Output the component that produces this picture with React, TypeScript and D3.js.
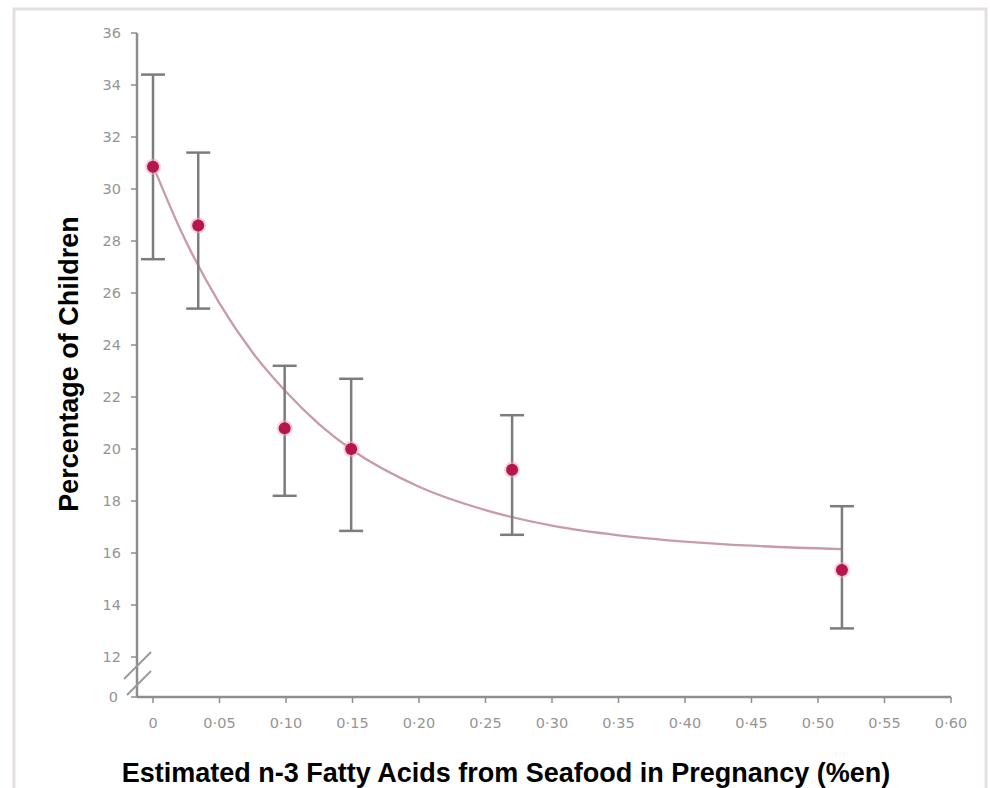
import React from "react";
import * as d3 from "d3";

// Data
const xValues = [0, 0.034, 0.099, 0.149, 0.27, 0.518];
const meanValues = [30.86, 28.6, 20.8, 20.0, 19.2, 15.35];
const upperValues = [34.4, 31.4, 23.2, 22.7, 21.3, 17.8];
const lowerValues = [27.3, 25.4, 18.2, 16.85, 16.7, 13.1];

// fitted curve, points
const curveX = [0, 0.02, 0.05, 0.075, 0.1, 0.125, 0.15, 0.2, 0.25, 0.3, 0.35, 0.4, 0.45, 0.518];
const curveY = [30.9, 28.5, 25.6, 23.7, 22.2, 20.95, 19.95, 18.55, 17.65, 17.05, 16.68, 16.44, 16.28, 16.15];

const xTicks = [0, 0.05, 0.1, 0.15, 0.2, 0.25, 0.3, 0.35, 0.4, 0.45, 0.5, 0.55, 0.6];
const xTickLabels = ["0", "0·05", "0·10", "0·15", "0·20", "0·25", "0·30", "0·35", "0·40", "0·45", "0·50", "0·55", "0·60"];
const yTicks = [12, 14, 16, 18, 20, 22, 24, 26, 28, 30, 32, 34, 36];
const yTickLabels = ["12", "14", "16", "18", "20", "22", "24", "26", "28", "30", "32", "34", "36"];
const yZeroLabel = "0";

const xTitle = "Estimated n-3 Fatty Acids from Seafood in Pregnancy (%en)";
const yTitle = "Percentage of Children";

export default function App() {
  const W = 990;
  const H = 788;
  const axisX = 137;
  const axisY = 697;
  const x = d3.scaleLinear().domain([0, 0.6]).range([153, 951]);
  const y = d3.scaleLinear().domain([12, 36]).range([657, 33]);

  const curvePts: [number, number][] = curveX.map((v, i) => [x(v), y(curveY[i])]);
  const linePath = d3.line().curve(d3.curveMonotoneX)(curvePts) || "";

  const axisColor = "#8e8e8e";
  const tickFont = "'DejaVu Sans', sans-serif";
  const tickColor = "#959595";
  const tickSize = 14.5;

  const mid = (y(12) + axisY) / 2;
  const breakY1 = mid - 11.5;
  const breakY2 = mid + 6;

  return (
    <svg
      width={W}
      height={H}
      style={{ position: "absolute", left: 0, top: 0, background: "#fff" }}
    >
      {/* frame */}
      <rect x={14} y={9} width={972} height={790} fill="none" stroke="#e6dfe1" strokeWidth={3} />

      {/* y axis */}
      <line x1={axisX} x2={axisX} y1={y(36)} y2={axisY} stroke={axisColor} strokeWidth={2.5} />
      {yTicks.map((t, i) => (
        <g key={"yt" + t}>
          <line x1={axisX - 6} x2={axisX} y1={y(t)} y2={y(t)} stroke={axisColor} strokeWidth={1.5} />
          <text
            x={121}
            y={y(t)}
            textAnchor="end"
            dominantBaseline="central"
            fontFamily={tickFont}
            fontSize={tickSize}
            fill={tickColor}
          >
            {yTickLabels[i]}
          </text>
        </g>
      ))}
      <line x1={axisX - 6} x2={axisX} y1={axisY} y2={axisY} stroke={axisColor} strokeWidth={1.5} />
      <text
        x={118}
        y={axisY}
        textAnchor="end"
        dominantBaseline="central"
        fontFamily={tickFont}
        fontSize={tickSize}
        fill={tickColor}
      >
        {yZeroLabel}
      </text>
      {/* axis break marks */}
      <line x1={axisX - 13} x2={axisX + 14} y1={breakY1 + 13.5} y2={breakY1 - 13.5} stroke="#9a9a9a" strokeWidth={2} />
      <line x1={axisX - 10} x2={axisX + 14} y1={breakY2 + 12} y2={breakY2 - 12} stroke="#9a9a9a" strokeWidth={2} />

      {/* x axis */}
      <line x1={axisX} x2={x(0.6)} y1={axisY} y2={axisY} stroke={axisColor} strokeWidth={2.5} />
      {xTicks.map((t, i) => (
        <g key={"xt" + t}>
          <line x1={x(t)} x2={x(t)} y1={axisY} y2={axisY + 6} stroke={axisColor} strokeWidth={1.5} />
          <text
            x={x(t)}
            y={723}
            textAnchor="middle"
            dominantBaseline="central"
            fontFamily={tickFont}
            fontSize={tickSize}
            fill={tickColor}
          >
            {xTickLabels[i]}
          </text>
        </g>
      ))}

      {/* fitted curve */}
      <path d={linePath} fill="none" stroke="#c99aa7" strokeWidth={2.3} />

      {/* error bars */}
      {xValues.map((v, i) => (
        <g key={"eb" + i} stroke="#7c7c7c" strokeWidth={2.5}>
          <line x1={x(v)} x2={x(v)} y1={y(upperValues[i])} y2={y(lowerValues[i])} />
          <line x1={x(v) - 12} x2={x(v) + 12} y1={y(upperValues[i])} y2={y(upperValues[i])} />
          <line x1={x(v) - 12} x2={x(v) + 12} y1={y(lowerValues[i])} y2={y(lowerValues[i])} />
        </g>
      ))}

      {/* points */}
      {xValues.map((v, i) => (
        <g key={"pt" + i}>
          <circle cx={x(v)} cy={y(meanValues[i])} r={8} fill="#f2a9c0" opacity={0.55} />
          <circle cx={x(v)} cy={y(meanValues[i])} r={6} fill="#b3174c" />
        </g>
      ))}

      {/* titles */}
      <text
        transform={`translate(78, 364) rotate(-90)`}
        textAnchor="middle"
        fontFamily="'Liberation Sans', Arial, sans-serif"
        fontWeight="bold"
        fontSize={27}
        fill="#000"
      >
        {yTitle}
      </text>
      <text
        x={506}
        y={782}
        textAnchor="middle"
        fontFamily="'Liberation Sans', Arial, sans-serif"
        fontWeight="bold"
        fontSize={27}
        fill="#000"
      >
        {xTitle}
      </text>
    </svg>
  );
}
